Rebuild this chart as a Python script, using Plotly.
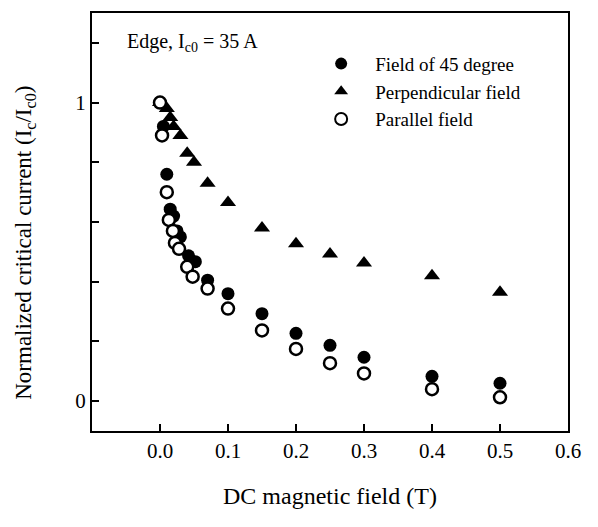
import plotly.graph_objects as go

# ---- data ----
x_45 = [0.0, 0.005, 0.01, 0.015, 0.02, 0.025, 0.03, 0.042, 0.052, 0.07, 0.1, 0.15, 0.2, 0.25, 0.3, 0.4, 0.5]
y_45 = [1.0, 0.92, 0.76, 0.643, 0.62, 0.57, 0.55, 0.487, 0.467, 0.405, 0.36, 0.293, 0.227, 0.187, 0.147, 0.083, 0.06]

x_perp = [0.0, 0.01, 0.015, 0.02, 0.03, 0.04, 0.05, 0.07, 0.1, 0.15, 0.2, 0.25, 0.3, 0.4, 0.5]
y_perp = [1.0, 0.98, 0.95, 0.92, 0.89, 0.83, 0.8, 0.73, 0.665, 0.58, 0.527, 0.493, 0.463, 0.42, 0.365]

x_par = [0.0, 0.003, 0.01, 0.013, 0.019, 0.022, 0.028, 0.04, 0.048, 0.07, 0.1, 0.15, 0.2, 0.25, 0.3, 0.4, 0.5]
y_par = [1.0, 0.89, 0.70, 0.607, 0.57, 0.53, 0.51, 0.45, 0.417, 0.377, 0.31, 0.237, 0.175, 0.127, 0.093, 0.04, 0.013]

x_tickvals = [0.0, 0.1, 0.2, 0.3, 0.4, 0.5, 0.6]
x_ticktext = ["0.0", "0.1", "0.2", "0.3", "0.4", "0.5", "0.6"]
y_tickvals = [0.0, 0.2, 0.4, 0.6, 0.8, 1.0, 1.2]
y_ticktext = ["0", "", "", "", "", "1", ""]

FONT = "Liberation Serif, Times New Roman, serif"

fig = go.Figure()
fig.add_trace(go.Scatter(x=x_45, y=y_45, mode="markers", name="Field of 45 degree",
                         marker=dict(symbol="circle", size=13, color="black")))
fig.add_trace(go.Scatter(x=x_perp, y=y_perp, mode="markers", name="Perpendicular field",
                         marker=dict(symbol="triangle-up", size=14, color="black")))
fig.add_trace(go.Scatter(x=x_par, y=y_par, mode="markers", name="Parallel field",
                         marker=dict(symbol="circle", size=12, color="white",
                                     line=dict(color="black", width=2.5))))

axis_common = dict(showline=True, linecolor="black", linewidth=2, mirror=True,
                   ticks="inside", ticklen=7, tickwidth=1.5, tickcolor="black",
                   showgrid=False, zeroline=False,
                   tickfont=dict(family=FONT, size=21, color="black"))

fig.update_xaxes(range=[-0.1, 0.6], tickvals=x_tickvals, ticktext=x_ticktext, **axis_common)
fig.update_yaxes(range=[-0.1, 1.3], tickvals=y_tickvals, ticktext=y_ticktext, **axis_common)

# axis titles placed as annotations for precise positioning
fig.add_annotation(x=0.5, y=-0.155, xref="paper", yref="paper", xanchor="center", yanchor="middle",
                   text="DC magnetic field (T)", showarrow=False,
                   font=dict(family=FONT, size=24, color="black"))
fig.add_annotation(x=-0.141, y=0.45, xref="paper", yref="paper", xanchor="center", yanchor="middle",
                   text="Normalized critical current (I<sub>c</sub>/I<sub>c0</sub>)", textangle=-90,
                   showarrow=False, font=dict(family=FONT, size=23, color="black"))

fig.add_annotation(x=-0.052, y=1.2, xref="x", yref="y", xanchor="left", yanchor="middle",
                   text="Edge, I<sub>c0</sub> = 35 A", showarrow=False,
                   font=dict(family=FONT, size=20, color="black"))

fig.update_layout(
    width=598, height=527,
    margin=dict(l=92, r=30, t=11, b=96),
    paper_bgcolor="white", plot_bgcolor="white",
    showlegend=True,
    legend=dict(x=0.452, y=0.924, xanchor="left", yanchor="top",
                bgcolor="rgba(0,0,0,0)", itemwidth=58, tracegroupgap=0,
                itemsizing="constant",
                font=dict(family=FONT, size=19, color="black")),
)

fig.write_html("out.html")
